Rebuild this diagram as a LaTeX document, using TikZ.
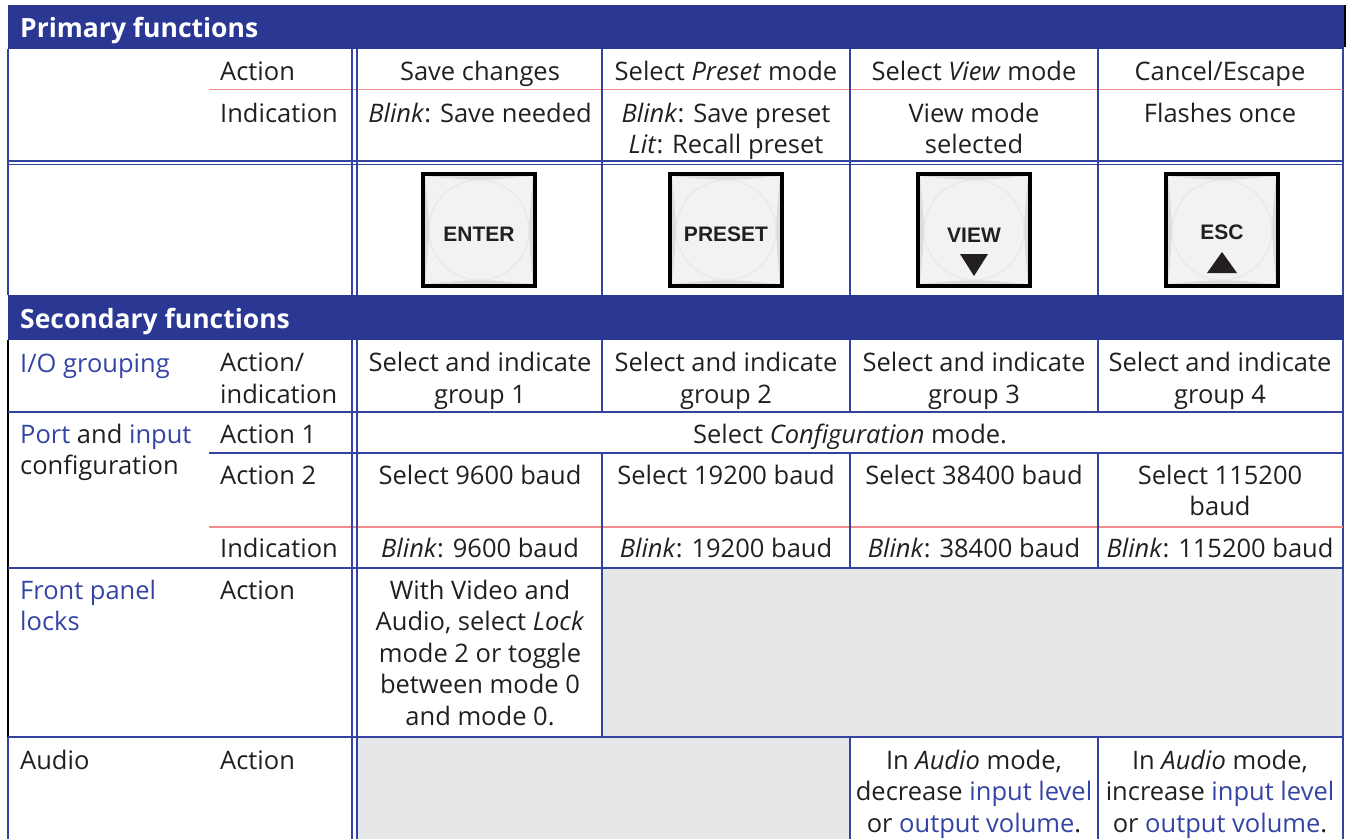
\documentclass[tikz,border=0pt]{standalone}
\usepackage{fontspec}
\usepackage{xcolor}
\setmainfont{Open Sans}
\newfontfamily\keyfont{Liberation Sans}

\definecolor{hdrblue}{HTML}{2B3893}
\definecolor{ruleblue}{HTML}{3443A0}
\definecolor{rulered}{HTML}{F08C8C}
\definecolor{cellgray}{HTML}{E6E7E8}
\definecolor{linkblue}{HTML}{3444A4}
\definecolor{inkblack}{HTML}{231F20}
\definecolor{keytop}{HTML}{F2F2F2}
\definecolor{keyshade}{HTML}{DCDCDC}

\begin{document}
\begin{tikzpicture}[x=1pt, y=-1pt,
  hdrtxt/.style={font=\fontsize{26.5}{30}\selectfont\bfseries, text=white, anchor=base west, inner sep=0pt},
  txt/.style={font=\fontsize{25.5}{31.5}\selectfont, text=inkblack, align=center, anchor=base, inner sep=0pt},
  lefttxt/.style={font=\fontsize{25.5}{31.5}\selectfont, text=inkblack, align=left, anchor=base west, inner sep=0pt},
  bluerule/.style={draw=ruleblue, line width=1.5pt},
  redrule/.style={draw=rulered, line width=1.8pt},
  keyframe/.style={draw=black, line width=3.5pt},
  keyring/.style={draw=keyshade!70, line width=1pt},
  keylabel/.style={font=\keyfont\fontsize{21}{24}\selectfont\bfseries, text=inkblack, inner sep=0pt, anchor=base}]

  \useasboundingbox (0,0) rectangle (1346,839);

  % Header bands
  \fill[hdrblue] (8,5) rectangle (1344,49);
  \fill[hdrblue] (8,295) rectangle (1344,340);
  \node[hdrtxt] (primhdr) at (20,37) {Primary functions};
  \node[hdrtxt] (sechdr) at (20,328) {Secondary functions};

  % Greyed-out cells
  \fill[cellgray] (602,568) rectangle (1343,737);
  \fill[cellgray] (357,737) rectangle (850,839);

  % Outer frame
  \draw[bluerule] (8,49) -- (8,295);
  \draw[bluerule] (8,340) -- (8,839);
  \draw[black, line width=2.5pt] (8,340) -- (8,737);
  \draw[bluerule] (1343,49) -- (1343,295);
  \draw[bluerule] (1343,340) -- (1343,839);
  \draw[black, line width=2pt] (1344.5,5) -- (1344.5,47);

  % Horizontal rules
  \draw[redrule] (209,89.5) -- (1343,89.5);
  \draw[bluerule] (8,161) -- (1343,161);
  \draw[bluerule] (8,164.5) -- (1343,164.5);
  \draw[bluerule] (8,412) -- (1343,412);
  \draw[bluerule] (209,453) -- (1343,453);
  \draw[redrule] (209,527) -- (1343,527);
  \draw[bluerule] (8,568) -- (1343,568);
  \draw[bluerule] (8,737) -- (1343,737);

  % Vertical rules (double one after the label columns)
  \draw[bluerule] (352,49) -- (352,295);
  \draw[bluerule] (357,49) -- (357,295);
  \draw[bluerule] (352,340) -- (352,839);
  \draw[bluerule] (357,340) -- (357,839);
  \draw[bluerule] (602,49) -- (602,295);
  \draw[bluerule] (850,49) -- (850,295);
  \draw[bluerule] (1098,49) -- (1098,295);
  \draw[bluerule] (602,340) -- (602,412);
  \draw[bluerule] (850,340) -- (850,412);
  \draw[bluerule] (1098,340) -- (1098,412);
  \draw[bluerule] (602,453) -- (602,737);
  \draw[bluerule] (850,453) -- (850,568);
  \draw[bluerule] (1098,453) -- (1098,568);
  \draw[bluerule] (850,737) -- (850,839);
  \draw[bluerule] (1098,737) -- (1098,839);

  % Primary functions (multi-line nodes sit on their last baseline)
  \node[lefttxt] (pact) at (220,80) {Action};
  \node[lefttxt] (pind) at (220,122) {Indication};
  \node[txt] (pa1) at (480,80) {Save changes};
  \node[txt] (pa2) at (726,80) {Select \textit{Preset} mode};
  \node[txt] (pa3) at (974,80) {Select \textit{View} mode};
  \node[txt] (pa4) at (1220,80) {Cancel/Escape};
  \node[txt] (pi1) at (480,122) {\textit{Blink}: Save needed};
  \node[txt] (pi2) at (726,153.5) {\textit{Blink}: Save preset\\\textit{Lit}: Recall preset};
  \node[txt] (pi3) at (974,153.5) {View mode\\selected};
  \node[txt] (pi4) at (1220,122) {Flashes once};

  % ENTER key
  \begin{scope}[shift={(479,230)}]
    \fill[keyshade] (-56,-56) rectangle (56,56);
    \fill[keytop] (-54,-54) .. controls (0,-49) .. (54,-54) .. controls (49,0) .. (54,54)
      .. controls (0,49) .. (-54,54) .. controls (-49,0) .. (-54,-54);
    \draw[keyring] (0,0) circle (50pt);
    \draw[keyframe] (-56,-56) rectangle (56,56);
    \node[keylabel] (enter) at (0,11) {ENTER};
  \end{scope}

  % PRESET key
  \begin{scope}[shift={(726,230)}]
    \fill[keyshade] (-56,-56) rectangle (56,56);
    \fill[keytop] (-54,-54) .. controls (0,-49) .. (54,-54) .. controls (49,0) .. (54,54)
      .. controls (0,49) .. (-54,54) .. controls (-49,0) .. (-54,-54);
    \draw[keyring] (0,0) circle (50pt);
    \draw[keyframe] (-56,-56) rectangle (56,56);
    \node[keylabel] (preset) at (0,11) {PRESET};
  \end{scope}

  % VIEW key
  \begin{scope}[shift={(974,230)}]
    \fill[keyshade] (-56,-56) rectangle (56,56);
    \fill[keytop] (-54,-54) .. controls (0,-49) .. (54,-54) .. controls (49,0) .. (54,54)
      .. controls (0,49) .. (-54,54) .. controls (-49,0) .. (-54,-54);
    \draw[keyring] (0,0) circle (50pt);
    \draw[keyframe] (-56,-56) rectangle (56,56);
    \node[keylabel] (view) at (0,12) {VIEW};
    \fill[inkblack] (-14,24) -- (14,24) -- (0,46) -- cycle;
  \end{scope}

  % ESC key
  \begin{scope}[shift={(1222,230)}]
    \fill[keyshade] (-56,-56) rectangle (56,56);
    \fill[keytop] (-54,-54) .. controls (0,-49) .. (54,-54) .. controls (49,0) .. (54,54)
      .. controls (0,49) .. (-54,54) .. controls (-49,0) .. (-54,-54);
    \draw[keyring] (0,0) circle (50pt);
    \draw[keyframe] (-56,-56) rectangle (56,56);
    \node[keylabel] (esc) at (0,9) {ESC};
    \fill[inkblack] (-15,43) -- (15,43) -- (0,22) -- cycle;
  \end{scope}

  % I/O grouping
  \node[lefttxt, text=linkblue] (iogrp) at (20,372) {I/O grouping};
  \node[lefttxt] (ioact) at (220,403) {Action/\\indication};
  \node[txt] (io1) at (480,403) {Select and indicate\\group 1};
  \node[txt] (io2) at (726,403) {Select and indicate\\group 2};
  \node[txt] (io3) at (974,403) {Select and indicate\\group 3};
  \node[txt] (io4) at (1220,403) {Select and indicate\\group 4};

  % Port and input configuration
  \node[lefttxt] (portcfg) at (20,474.5) {\textcolor{linkblue}{Port} and \textcolor{linkblue}{input}\\configuration};
  \node[lefttxt] (pcact1) at (220,443) {Action 1};
  \node[lefttxt] (pcact2) at (220,484) {Action 2};
  \node[lefttxt] (pcind) at (220,557) {Indication};
  \node[txt] (cfgmode) at (850,443) {Select \textit{Configuration} mode.};
  \node[txt] (baud1) at (480,484) {Select 9600 baud};
  \node[txt] (baud2) at (726,484) {Select 19200 baud};
  \node[txt] (baud3) at (974,484) {Select 38400 baud};
  \node[txt] (baud4) at (1220,515.5) {Select 115200\\baud};
  \node[txt] (blink1) at (480,557) {\textit{Blink}: 9600 baud};
  \node[txt] (blink2) at (726,557) {\textit{Blink}: 19200 baud};
  \node[txt] (blink3) at (974,557) {\textit{Blink}: 38400 baud};
  \node[txt] (blink4) at (1220,557) {\textit{Blink}: 115200 baud};

  % Front panel locks
  \node[lefttxt, text=linkblue] (fplock) at (20,630.5) {Front panel\\locks};
  \node[lefttxt] (fpact) at (220,599) {Action};
  \node[txt] (lockmode) at (480,725) {With Video and\\Audio, select \textit{Lock}\\mode 2 or toggle\\between mode 0\\and mode 0.};

  % Audio
  \node[lefttxt] (audio) at (20,769) {Audio};
  \node[lefttxt] (audact) at (220,769) {Action};
  \node[txt] (audlow) at (974,832) {In \textit{Audio} mode,\\decrease \textcolor{linkblue}{input level}\\or \textcolor{linkblue}{output volume}.};
  \node[txt] (audhigh) at (1220,832) {In \textit{Audio} mode,\\increase \textcolor{linkblue}{input level}\\or \textcolor{linkblue}{output volume}.};

\end{tikzpicture}
\end{document}
